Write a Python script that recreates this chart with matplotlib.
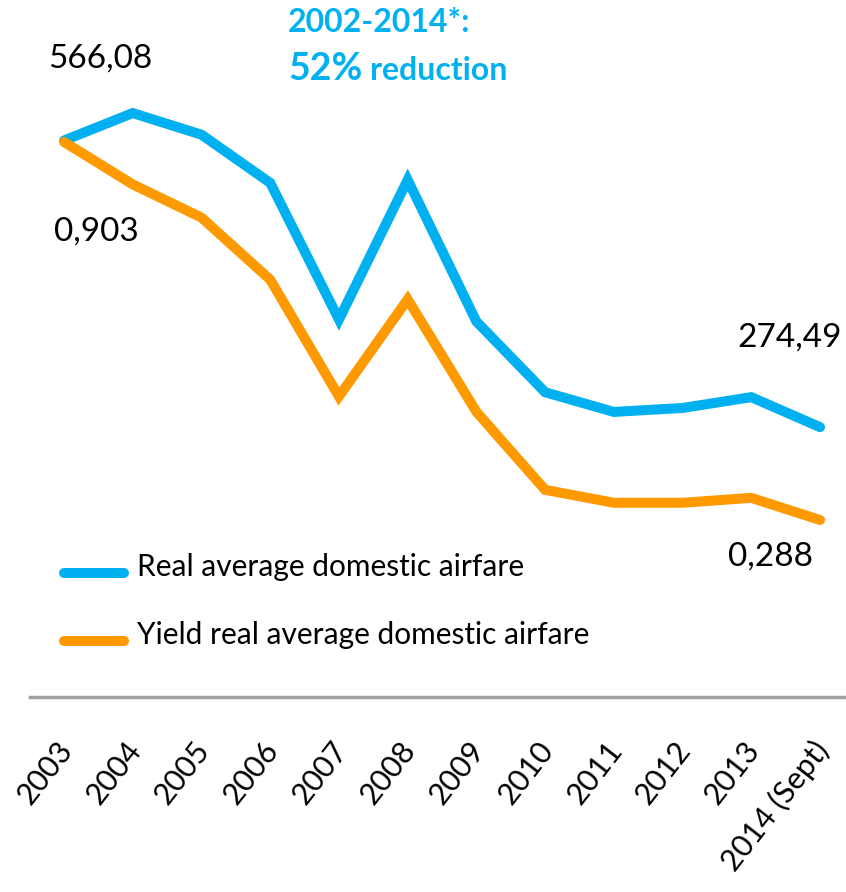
import matplotlib
matplotlib.use("Agg")
import matplotlib.pyplot as plt
import matplotlib.transforms as mtransforms

plt.rcParams['font.family'] = ['Lato', 'DejaVu Sans']

# data
years = ['2003', '2004', '2005', '2006', '2007', '2008',
         '2009', '2010', '2011', '2012', '2013', '2014 (Sept)']
real_fare = [566.08, 594, 572, 523, 384, 526, 382, 310, 290, 294, 305, 274.49]
yield_fare = [0.903, 0.834, 0.780, 0.679, 0.489, 0.647, 0.464, 0.337, 0.316, 0.316, 0.324, 0.288]

BLUE = '#00B0F0'
ORANGE = '#FF9900'

W, H = 846, 892
fig = plt.figure(figsize=(W / 100, H / 100), dpi=100)
ax = fig.add_axes([30 / W, 195 / H, 816 / W, 697 / H])
ax2 = ax.twinx()

x = list(range(len(years)))
ax.plot(x, real_fare, color=BLUE, lw=7.2, solid_capstyle='round', solid_joinstyle='miter', zorder=3)
ax2.plot(x, yield_fare, color=ORANGE, lw=7.2, solid_capstyle='round', solid_joinstyle='miter', zorder=2)

ax.set_xlim(-0.495, 11.378)
ax.set_ylim(0, 709)
ax2.set_ylim(0, 1.134)

for a in (ax, ax2):
    for s in a.spines.values():
        s.set_visible(False)
    a.set_yticks([])
    a.set_xticks([])
ax.spines['bottom'].set_visible(True)
ax.spines['bottom'].set_color('#a0a0a0')
ax.spines['bottom'].set_linewidth(2.5)
ax.patch.set_visible(False)

# rotated year labels below the axis line
trans = mtransforms.blended_transform_factory(ax.transData, fig.transFigure)
for i, lab in enumerate(years):
    ax.text(i - 0.12, 1 - 736 / H, lab, transform=trans, rotation=52,
            rotation_mode='anchor', ha='right', va='top', fontsize=22, color='black')

# value labels at both ends
def lab(a, xi, yi, txt, dx, dy):
    a.annotate(txt, xy=(xi, yi), xytext=(dx, dy), textcoords='offset pixels',
               ha='center', va='center', fontsize=24, color='black')

lab(ax, 0, real_fare[0], '566,08', 36, 82)
lab(ax2, 0, yield_fare[0], '0,903', 32, -90)
lab(ax, 11, real_fare[-1], '274,49', -30, 90)
lab(ax2, 11, yield_fare[-1], '0,288', -50, -37)

# headline
fig.text(288 / W, 1 - 22 / H, '2002-2014*:', color=BLUE, fontsize=23,
         fontweight='bold', ha='left', va='center')
fig.text(288 / W, 1 - 69 / H, '52%', color=BLUE, fontsize=27,
         fontweight='bold', ha='left', va='center')
fig.text(370 / W, 1 - 71 / H, 'reduction', color=BLUE, fontsize=23,
         fontweight='bold', ha='left', va='center')

# legend drawn by hand
ax.plot([64 / W, 124 / W], [1 - 573 / H] * 2, transform=fig.transFigure,
        color=BLUE, lw=7.2, solid_capstyle='round', clip_on=False)
ax.plot([64 / W, 124 / W], [1 - 641 / H] * 2, transform=fig.transFigure,
        color=ORANGE, lw=7.2, solid_capstyle='round', clip_on=False)
fig.text(137 / W, 1 - 567 / H, 'Real average domestic airfare', fontsize=21.5,
         ha='left', va='center')
fig.text(137 / W, 1 - 635 / H, 'Yield real average domestic airfare', fontsize=21.5,
         ha='left', va='center')

fig.savefig('out.png', dpi=100)
